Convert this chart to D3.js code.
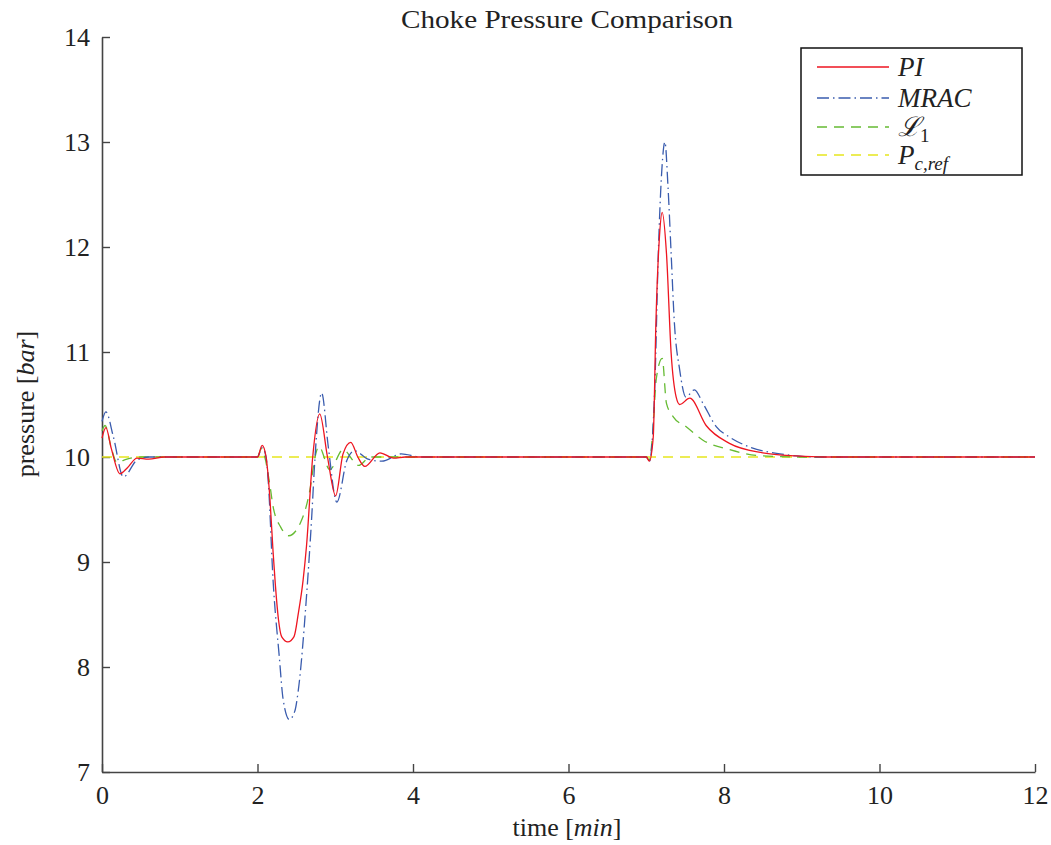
<!DOCTYPE html>
<html>
<head>
<meta charset="utf-8">
<script src="https://cdn.jsdelivr.net/npm/d3@7"></script>
<style>
  body { margin: 0; background: #fff; }
  svg text { font-family: "Liberation Serif", "DejaVu Serif", serif; fill: #222; }
</style>
</head>
<body>
<div id="chart"></div>
<script>
// data (time in min, pressure in bar)
const piT = [0, 0.05, 0.12, 0.23, 0.33, 0.45, 0.6, 0.8, 2.0, 2.06, 2.11, 2.16, 2.2, 2.23, 2.27, 2.31, 2.39, 2.47, 2.525, 2.587, 2.63, 2.71, 2.8, 2.9, 3.005, 3.1, 3.2, 3.29, 3.38, 3.575, 3.75, 3.9, 7.0, 7.04, 7.09, 7.125, 7.17, 7.205, 7.26, 7.32, 7.385, 7.43, 7.56, 7.77, 8.07, 8.5, 8.93, 9.3, 12];
const piV = [10.18, 10.28, 10.08, 9.84, 9.9, 9.99, 9.98, 10, 10, 10.11, 10, 9.6, 9.1, 8.78, 8.45, 8.29, 8.24, 8.29, 8.51, 8.83, 9.15, 10.0, 10.41, 10.0, 9.63, 10.03, 10.14, 10.0, 9.91, 10.04, 9.99, 10, 10, 9.96, 10.19, 11.30, 12.10, 12.33, 11.94, 10.99, 10.57, 10.50, 10.56, 10.30, 10.13, 10.04, 10.01, 10, 10];

const mracT = [0, 0.05, 0.147, 0.275, 0.45, 0.6, 0.8, 2.0, 2.06, 2.11, 2.14, 2.2, 2.28, 2.33, 2.41, 2.48, 2.525, 2.63, 2.695, 2.74, 2.825, 2.91, 3.02, 3.15, 3.25, 3.42, 3.6, 3.85, 4.1, 7.0, 7.04, 7.11, 7.155, 7.2, 7.24, 7.28, 7.32, 7.36, 7.43, 7.51, 7.62, 7.73, 7.9, 8.07, 8.35, 8.72, 9.2, 12];
const mracV = [10.34, 10.43, 10.19, 9.81, 9.97, 10.0, 10.0, 10, 10.09, 10.0, 9.75, 8.83, 8.10, 7.69, 7.50, 7.58, 7.78, 8.67, 9.40, 10.0, 10.61, 10.10, 9.57, 9.97, 10.06, 9.98, 9.96, 10.03, 10, 10, 9.96, 10.67, 11.94, 12.73, 13.00, 12.57, 11.94, 11.30, 10.83, 10.57, 10.64, 10.51, 10.29, 10.19, 10.09, 10.03, 10.0, 10];

const l1T = [0, 0.04, 0.125, 0.19, 0.32, 0.5, 2.0, 2.05, 2.1, 2.16, 2.2, 2.3, 2.4, 2.55, 2.675, 2.74, 2.79, 2.93, 3.10, 3.30, 3.45, 7.0, 7.04, 7.08, 7.13, 7.205, 7.26, 7.35, 7.51, 7.73, 8.07, 8.5, 9.0, 12];
const l1V = [10.25, 10.30, 10.07, 9.95, 9.98, 10, 10, 10.08, 9.98, 9.73, 9.53, 9.33, 9.25, 9.37, 9.69, 10.0, 10.10, 9.88, 10.07, 9.92, 10, 10, 9.97, 10.2, 10.75, 10.94, 10.51, 10.38, 10.29, 10.16, 10.07, 10.01, 10, 10];

const refT = [0, 12];
const refV = [10, 10];

const xTicks = [0, 2, 4, 6, 8, 10, 12];
const yTicks = [7, 8, 9, 10, 11, 12, 13, 14];

const W = 1051, H = 845;
const margin = {top: 37, right: 16, bottom: 73, left: 102};

const svg = d3.select("#chart").append("svg")
    .attr("width", W)
    .attr("height", H);

const x = d3.scaleLinear().domain([0, 12]).range([margin.left, W - margin.right]);
const y = d3.scaleLinear().domain([7, 14]).range([H - margin.bottom, margin.top]);

// title
svg.append("text")
    .attr("x", 567).attr("y", 28)
    .attr("text-anchor", "middle")
    .attr("textLength", 332)
    .attr("lengthAdjust", "spacingAndGlyphs")
    .style("font-size", "26px")
    .text("Choke Pressure Comparison");

// axes, ticks pointing inward
const xAxis = svg.append("g")
    .attr("transform", "translate(0," + (H - margin.bottom) + ")")
    .call(d3.axisBottom(x).tickValues(xTicks).tickFormat(d3.format("d")).tickSize(-8).tickPadding(14).tickSizeOuter(0));
const yAxis = svg.append("g")
    .attr("transform", "translate(" + margin.left + ",0)")
    .call(d3.axisLeft(y).tickValues(yTicks).tickFormat(d3.format("d")).tickSize(-8).tickPadding(12).tickSizeOuter(0));

[xAxis, yAxis].forEach(g => {
    g.select(".domain").attr("stroke", "#444").attr("stroke-width", 1.6);
    g.selectAll(".tick line").attr("stroke", "#444").attr("stroke-width", 1.4);
    g.selectAll(".tick text")
        .style("font-family", "'Liberation Serif', serif")
        .style("font-size", "26px")
        .attr("fill", "#222");
});

// axis labels
const xl = svg.append("text")
    .attr("x", 567).attr("y", 836)
    .attr("text-anchor", "middle")
    .style("font-size", "26px");
xl.append("tspan").text("time [");
xl.append("tspan").style("font-style", "italic").text("min");
xl.append("tspan").text("]");

const yl = svg.append("text")
    .attr("transform", "translate(34,404) rotate(-90)")
    .attr("text-anchor", "middle")
    .style("font-size", "26px");
yl.append("tspan").text("pressure [");
yl.append("tspan").style("font-style", "italic").text("bar");
yl.append("tspan").text("]");

// series
const smooth = d3.curveMonotoneX;
const series = [
    {t: refT, v: refV, color: "#e6e61e", dash: "10,7", curve: d3.curveLinear},
    {t: l1T, v: l1V, color: "#66bb33", dash: "10,7", curve: smooth},
    {t: mracT, v: mracV, color: "#3a5cae", dash: "12,4,1.5,4", curve: smooth},
    {t: piT, v: piV, color: "#ee1520", dash: null, curve: smooth}
];

series.forEach(s => {
    const pts = s.t.map((t, i) => [t, s.v[i]]);
    const line = d3.line()
        .x(d => x(d[0]))
        .y(d => y(d[1]))
        .curve(s.curve);
    svg.append("path")
        .datum(pts)
        .attr("d", line)
        .attr("fill", "none")
        .attr("stroke", s.color)
        .attr("stroke-width", 1.3)
        .attr("stroke-dasharray", s.dash);
});

// legend
const lg = svg.append("g");
lg.append("rect")
    .attr("x", 801).attr("y", 48)
    .attr("width", 221).attr("height", 127)
    .attr("fill", "#fff")
    .attr("stroke", "#111")
    .attr("stroke-width", 1.5);

const legendRows = [
    {color: "#ee1520", dash: null, y: 67},
    {color: "#3a5cae", dash: "12,4,1.5,4", y: 98},
    {color: "#66bb33", dash: "10,7", y: 127},
    {color: "#e6e61e", dash: "10,7", y: 155}
];
legendRows.forEach(r => {
    lg.append("line")
        .attr("x1", 817).attr("x2", 889)
        .attr("y1", r.y).attr("y2", r.y)
        .attr("stroke", r.color)
        .attr("stroke-width", 1.3)
        .attr("stroke-dasharray", r.dash);
});

function legText(yy) {
    return lg.append("text").attr("x", 898).attr("y", yy + 9).style("font-size", "27px");
}
legText(67).append("tspan").style("font-style", "italic").text("PI");
legText(98).append("tspan").style("font-style", "italic").text("MRAC");
const t3 = legText(127);
t3.append("tspan").style("font-style", "italic").text("\u2112");
t3.append("tspan").attr("dy", 6).style("font-size", "19px").text("1");
const t4 = legText(155);
t4.append("tspan").style("font-style", "italic").text("P");
t4.append("tspan").attr("dy", 6).style("font-size", "19px").style("font-style", "italic").text("c,ref");
</script>
</body>
</html>
